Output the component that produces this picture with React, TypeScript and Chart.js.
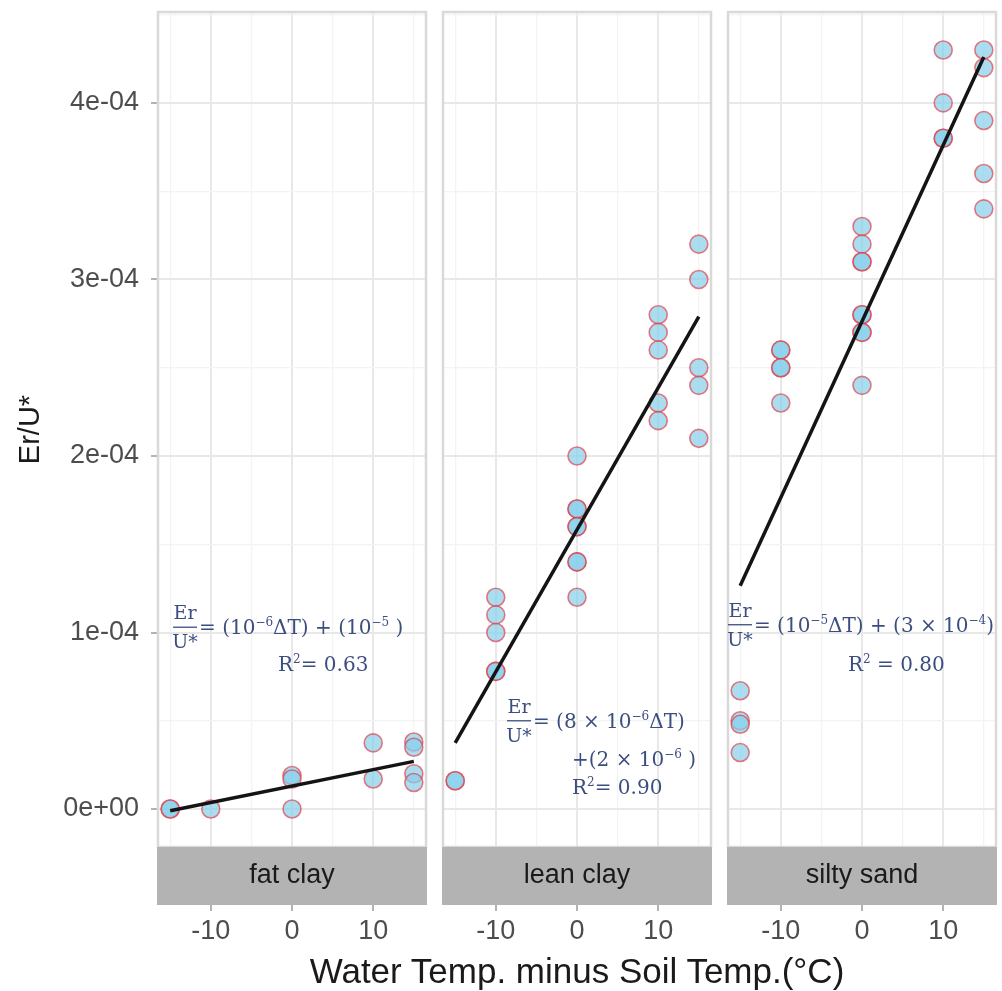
import React, { useEffect, useRef } from "react";
import { Chart, registerables } from "chart.js";
Chart.register(...registerables);

// ---------- data ----------
const panelNames = ["fat clay", "lean clay", "silty sand"];

const fatClayX = [-15, -15, -10, 0, 0, 0, 10, 10, 15, 15, 15, 15];
const fatClayY = [0, 0, 0, 0.19e-4, 0.17e-4, 0, 0.375e-4, 0.17e-4, 0.38e-4, 0.35e-4, 0.2e-4, 0.15e-4];

const leanClayX = [-15, -15, -10, -10, -10, -10, -10, 0, 0, 0, 0, 0, 0, 0, 0, 10, 10, 10, 10, 10, 15, 15, 15, 15, 15];
const leanClayY = [
  0.16e-4, 0.16e-4,
  1.2e-4, 1.1e-4, 1.0e-4, 0.78e-4, 0.78e-4,
  2.0e-4, 1.7e-4, 1.7e-4, 1.6e-4, 1.6e-4, 1.4e-4, 1.4e-4, 1.2e-4,
  2.8e-4, 2.7e-4, 2.6e-4, 2.3e-4, 2.2e-4,
  3.2e-4, 3.0e-4, 2.5e-4, 2.4e-4, 2.1e-4,
];

const siltySandX = [-15, -15, -15, -15, -10, -10, -10, -10, -10, 0, 0, 0, 0, 0, 0, 0, 0, 0, 10, 10, 10, 10, 15, 15, 15, 15, 15];
const siltySandY = [
  0.67e-4, 0.5e-4, 0.48e-4, 0.32e-4,
  2.6e-4, 2.6e-4, 2.5e-4, 2.5e-4, 2.3e-4,
  3.3e-4, 3.2e-4, 3.1e-4, 3.1e-4, 2.8e-4, 2.8e-4, 2.7e-4, 2.7e-4, 2.4e-4,
  4.3e-4, 4.0e-4, 3.8e-4, 3.8e-4,
  4.3e-4, 4.2e-4, 3.9e-4, 3.6e-4, 3.4e-4,
];

// fitted lines (start / end)
const fitX = [-15, 15];
const fatClayFit = [-0.01e-4, 0.27e-4];
const leanClayFit = [0.375e-4, 2.79e-4];
const siltySandFit = [1.265e-4, 4.26e-4];

const seriesX = [fatClayX, leanClayX, siltySandX];
const seriesY = [fatClayY, leanClayY, siltySandY];
const fitY = [fatClayFit, leanClayFit, siltySandFit];

const xTickValues = [-15, -10, -5, 0, 5, 10, 15];
const xMajorTicks = [-10, 0, 10];
const yTickValues = [0, 0.5e-4, 1e-4, 1.5e-4, 2e-4, 2.5e-4, 3e-4, 3.5e-4, 4e-4, 4.5e-4];

const xAxisTitle = "Water Temp. minus Soil Temp.(°C)";
const yAxisTitle = "Er/U*";

// equation annotations: [text, superscript?]
type Seg = [string, boolean];
type Note = { x: number; y: number; frac?: boolean; segs: Seg[] };
const notes: Note[][] = [
  [
    { x: -14.65, y: 1.03e-4, frac: true, segs: [["= (10", false], ["−6", true], ["ΔT) + (10", false], ["−5", true], [" )", false]] },
    { x: -1.72, y: 0.82e-4, segs: [["R", false], ["2", true], ["= 0.63", false]] },
  ],
  [
    { x: -8.62, y: 0.5e-4, frac: true, segs: [["= (8 × 10", false], ["−6", true], ["ΔT)", false]] },
    { x: -0.61, y: 0.284e-4, segs: [["+(2 × 10", false], ["−6", true], [" )", false]] },
    { x: -0.61, y: 0.125e-4, segs: [["R", false], ["2", true], ["= 0.90", false]] },
  ],
  [
    { x: -16.5, y: 1.044e-4, frac: true, segs: [["= (10", false], ["−5", true], ["ΔT) + (3 × 10", false], ["−4", true], [")", false]] },
    { x: -1.72, y: 0.823e-4, segs: [["R", false], ["2", true], [" = 0.80", false]] },
  ],
];

// ---------- layout / style ----------
const H = 991;
const LAYOUT = [
  { left: 0, w: 428, padL: 0, padR: 2 },
  { left: 441, w: 272, padL: 2, padR: 2 },
  { left: 726, w: 276, padL: 2, padR: 6 },
];
const SANS = '"Liberation Sans", Arial, sans-serif';
const SERIF = '"DejaVu Serif", serif';
const NOTE_COLOR = "#3C4E80";

function sci(v: number): string {
  if (Math.abs(v) < 1e-12) return "0e+00";
  const e = Math.floor(Math.log10(Math.abs(v)) + 1e-9);
  const m = Math.round(v / Math.pow(10, e));
  return `${m}e${e < 0 ? "-" : "+"}${String(Math.abs(e)).padStart(2, "0")}`;
}
const yMajor = (v: number) => Math.abs(v / 1e-4 - Math.round(v / 1e-4)) < 1e-6;
const xMajor = (v: number) => xMajorTicks.includes(v);

function drawRich(ctx: CanvasRenderingContext2D, x: number, baseline: number, segs: Seg[], size: number) {
  let cx = x;
  for (const [t, sup] of segs) {
    const s = sup ? Math.round(size * 0.62) : size;
    ctx.font = `${s}px ${SERIF}`;
    ctx.fillText(t, cx, sup ? baseline - size * 0.4 : baseline);
    cx += ctx.measureText(t).width;
  }
}

function Panel({ idx }: { idx: number }) {
  const ref = useRef<HTMLCanvasElement>(null);
  const L = LAYOUT[idx];
  useEffect(() => {
    const first = idx === 0;
    const pts = seriesX[idx].map((x, i) => ({ x, y: seriesY[idx][i] }));
    const line = fitX.map((x, i) => ({ x, y: fitY[idx][i] }));

    const facetPlugin = {
      id: "facet" + idx,
      afterDraw(chart: any) {
        const { ctx, chartArea: a, scales } = chart;
        ctx.save();
        // panel border
        ctx.strokeStyle = "#D9D9D9";
        ctx.lineWidth = 2.5;
        ctx.strokeRect(a.left, a.top, a.right - a.left, a.bottom - a.top);
        // strip
        ctx.fillStyle = "#B3B3B3";
        ctx.fillRect(a.left - 1, a.bottom, a.right - a.left + 2, 58);
        ctx.fillStyle = "#1A1A1A";
        ctx.font = `27px ${SANS}`;
        ctx.textAlign = "center";
        ctx.textBaseline = "middle";
        ctx.fillText(panelNames[idx], (a.left + a.right) / 2, a.bottom + 29);
        // annotations
        ctx.fillStyle = NOTE_COLOR;
        ctx.strokeStyle = NOTE_COLOR;
        ctx.textAlign = "left";
        ctx.textBaseline = "alphabetic";
        const size = 20;
        for (const n of notes[idx]) {
          const px = scales.x.getPixelForValue(n.x);
          const py = scales.y.getPixelForValue(n.y);
          let sx = px;
          if (n.frac) {
            const fw = 24;
            ctx.font = `19px ${SERIF}`;
            ctx.textAlign = "center";
            ctx.fillText("Er", px + fw / 2, py - 8);
            ctx.fillText("U*", px + fw / 2, py + 21);
            ctx.lineWidth = 1.3;
            ctx.beginPath();
            ctx.moveTo(px, py);
            ctx.lineTo(px + fw, py);
            ctx.stroke();
            ctx.textAlign = "left";
            sx = px + fw + 2;
          }
          drawRich(ctx, sx, py + 7, n.segs, size);
        }
        ctx.restore();
      },
    };

    const chart = new Chart(ref.current!, {
      type: "scatter",
      data: {
        datasets: [
          {
            data: line,
            showLine: true,
            borderColor: "#141414",
            borderWidth: 3.5,
            pointRadius: 0,
            order: 0,
          } as any,
          {
            data: pts,
            pointRadius: 9,
            pointBackgroundColor: "rgba(135,206,235,0.7)",
            pointBorderColor: "rgba(225,55,65,0.65)",
            pointBorderWidth: 1.6,
            order: 1,
          } as any,
        ],
      },
      options: {
        responsive: false,
        animation: false,
        devicePixelRatio: 1,
        layout: { autoPadding: false, padding: { top: 12, left: L.padL, right: L.padR, bottom: 0 } },
        plugins: { legend: { display: false }, tooltip: { enabled: false } },
        scales: {
          x: {
            type: "linear",
            min: -16.5,
            max: 16.5,
            afterBuildTicks: (s: any) => {
              s.ticks = xTickValues.map((v) => ({ value: v }));
            },
            afterFit: (s: any) => {
              s.height = 144;
              s.paddingLeft = 0;
              s.paddingRight = 0;
              s.paddingTop = 0;
              s.paddingBottom = 0;
            },
            border: { display: false },
            grid: {
              color: (c: any) => (c.tick && xMajor(c.tick.value) ? "#E8E8E8" : "#F3F3F3"),
              lineWidth: (c: any) => (c.tick && xMajor(c.tick.value) ? 2 : 1.3),
              tickColor: (c: any) => (c.tick && xMajor(c.tick.value) ? "#B3B3B3" : "rgba(0,0,0,0)"),
              tickLength: 64,
              drawTicks: true,
            },
            ticks: {
              autoSkip: false,
              maxRotation: 0,
              padding: 4,
              color: "#4D4D4D",
              font: { family: SANS, size: 27 },
              callback: (v: any) => (xMajor(Number(v)) ? String(v) : ""),
            },
          },
          y: {
            type: "linear",
            min: -0.215e-4,
            max: 4.515e-4,
            afterBuildTicks: (s: any) => {
              s.ticks = yTickValues.map((v) => ({ value: v }));
            },
            afterFit: (s: any) => {
              s.width = first ? 158 : 0;
              s.paddingLeft = 0;
              s.paddingRight = 0;
              s.paddingTop = 0;
              s.paddingBottom = 0;
            },
            border: { display: false },
            grid: {
              color: (c: any) => (c.tick && yMajor(c.tick.value) ? "#E8E8E8" : "#F3F3F3"),
              lineWidth: (c: any) => (c.tick && yMajor(c.tick.value) ? 2 : 1.3),
              tickColor: (c: any) => (c.tick && yMajor(c.tick.value) ? "#B3B3B3" : "rgba(0,0,0,0)"),
              tickLength: 7,
              drawTicks: first,
            },
            ticks: {
              display: first,
              padding: 12,
              color: "#4D4D4D",
              font: { family: SANS, size: 27 },
              callback: (v: any) => (yMajor(Number(v)) ? sci(Number(v)) : ""),
            },
            title: {
              display: first,
              text: yAxisTitle,
              color: "#1A1A1A",
              font: { family: SANS, size: 29 },
              padding: { top: 14, bottom: 0 },
            },
          },
        },
      },
      plugins: [facetPlugin],
    } as any);
    return () => chart.destroy();
  }, [idx]);
  return (
    <canvas
      ref={ref}
      width={L.w}
      height={H}
      style={{ position: "absolute", left: L.left, top: 0, width: L.w, height: H }}
    />
  );
}

export default function App() {
  return (
    <div
      style={{
        position: "fixed",
        left: 0,
        top: 0,
        width: 1002,
        height: H,
        background: "#ffffff",
        overflow: "hidden",
      }}
    >
      <Panel idx={0} />
      <Panel idx={1} />
      <Panel idx={2} />
      <div
        style={{
          position: "absolute",
          left: 158,
          width: 838,
          top: 953,
          textAlign: "center",
          fontFamily: SANS,
          fontSize: 35,
          lineHeight: "35px",
          color: "#1A1A1A",
          whiteSpace: "nowrap",
        }}
      >
        {xAxisTitle}
      </div>
    </div>
  );
}
